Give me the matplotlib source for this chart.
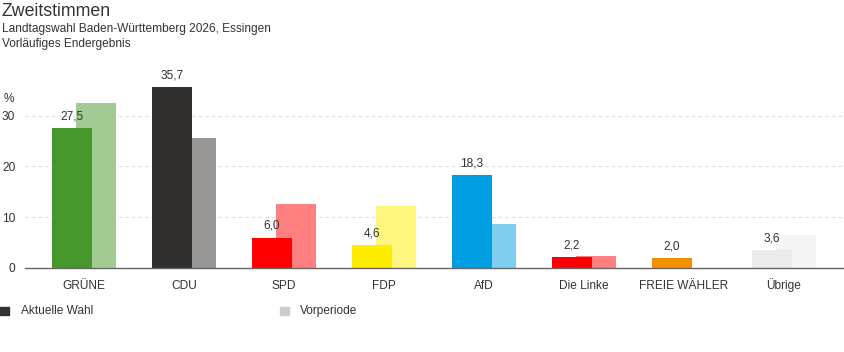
import matplotlib.pyplot as plt
import numpy as np

plt.rcParams['font.family'] = ['Liberation Sans', 'DejaVu Sans']

parties = ['GRÜNE', 'CDU', 'SPD', 'FDP', 'AfD', 'Die Linke', 'FREIE WÄHLER', 'Übrige']
current = [27.5, 35.7, 6.0, 4.6, 18.3, 2.2, 2.0, 3.6]
previous = [32.5, 25.5, 12.5, 12.2, 8.6, 2.4, 0.0, 6.5]
labels = ['27,5', '35,7', '6,0', '4,6', '18,3', '2,2', '2,0', '3,6']

col_cur = ['#46962b', '#32302e', '#ff0000', '#ffed00', '#009ee0', '#ff0000', '#f29100', '#ebebeb']
col_prev = ['#a2cb94', '#989796', '#ff8080', '#fff680', '#80cff0', '#ff8080', '#f8c880', '#f5f5f5']

fs = 8.6

fig = plt.figure(figsize=(8.44, 3.52), dpi=100)
ax = fig.add_axes([25 / 844, 1 - 268 / 352, 1 - 25 / 844, (268 - 80) / 352])

x = np.arange(len(parties))
w = 0.4
off = 0.12
ax.bar(x + off, previous, width=w, color=col_prev, zorder=2)
ax.bar(x - off, current, width=w, color=col_cur, zorder=3)

for xi, v, t in zip(x, current, labels):
    ax.annotate(t, (xi - off, v), xytext=(0, 4), textcoords='offset points',
                ha='center', va='bottom', fontsize=fs, color='#333333', zorder=4)

ax.set_xlim(-0.59, 7.6)
ax.set_ylim(0, 37)
ax.set_yticks([0, 10, 20, 30])
ax.set_xticks(x)
ax.set_xticklabels(parties, fontsize=fs, color='#333333')
ax.tick_params(axis='x', length=0, pad=15)
for lbl in ax.get_xticklabels():
    lbl.set_verticalalignment('baseline')
ax.tick_params(axis='y', length=0, pad=7, labelsize=fs, labelcolor='#333333')

ax.grid(axis='y', color='#dddddd', linestyle=(0, (3, 3)), linewidth=0.8, zorder=0)
ax.set_axisbelow(True)
for s in ['top', 'right', 'left']:
    ax.spines[s].set_visible(False)
ax.spines['bottom'].set_color('#666666')
ax.spines['bottom'].set_linewidth(1.0)
ax.spines['bottom'].set_zorder(5)

fig.text(4 / 844, 1 - 99 / 352, '%', fontsize=fs, color='#333333', va='center', ha='left')

fig.text(2 / 844, 1 - 12 / 352, 'Zweitstimmen', fontsize=12.8, color='#333333', va='center', ha='left')
fig.text(2 / 844, 1 - 29 / 352, 'Landtagswahl Baden-Württemberg 2026, Essingen', fontsize=fs,
         color='#333333', va='center', ha='left')
fig.text(2 / 844, 1 - 44 / 352, 'Vorläufiges Endergebnis', fontsize=fs,
         color='#333333', va='center', ha='left')

# legend
fig.patches.append(plt.Rectangle((0, 1 - 315 / 352), 9 / 844, 8 / 352,
                                 transform=fig.transFigure, color='#333333'))
fig.text(21 / 844, 1 - 311 / 352, 'Aktuelle Wahl', fontsize=fs, color='#333333', va='center')
fig.patches.append(plt.Rectangle((280 / 844, 1 - 315 / 352), 9 / 844, 8 / 352,
                                 transform=fig.transFigure, color='#cccccc'))
fig.text(300 / 844, 1 - 311 / 352, 'Vorperiode', fontsize=fs, color='#333333', va='center')

fig.savefig('out.png', dpi=100)
